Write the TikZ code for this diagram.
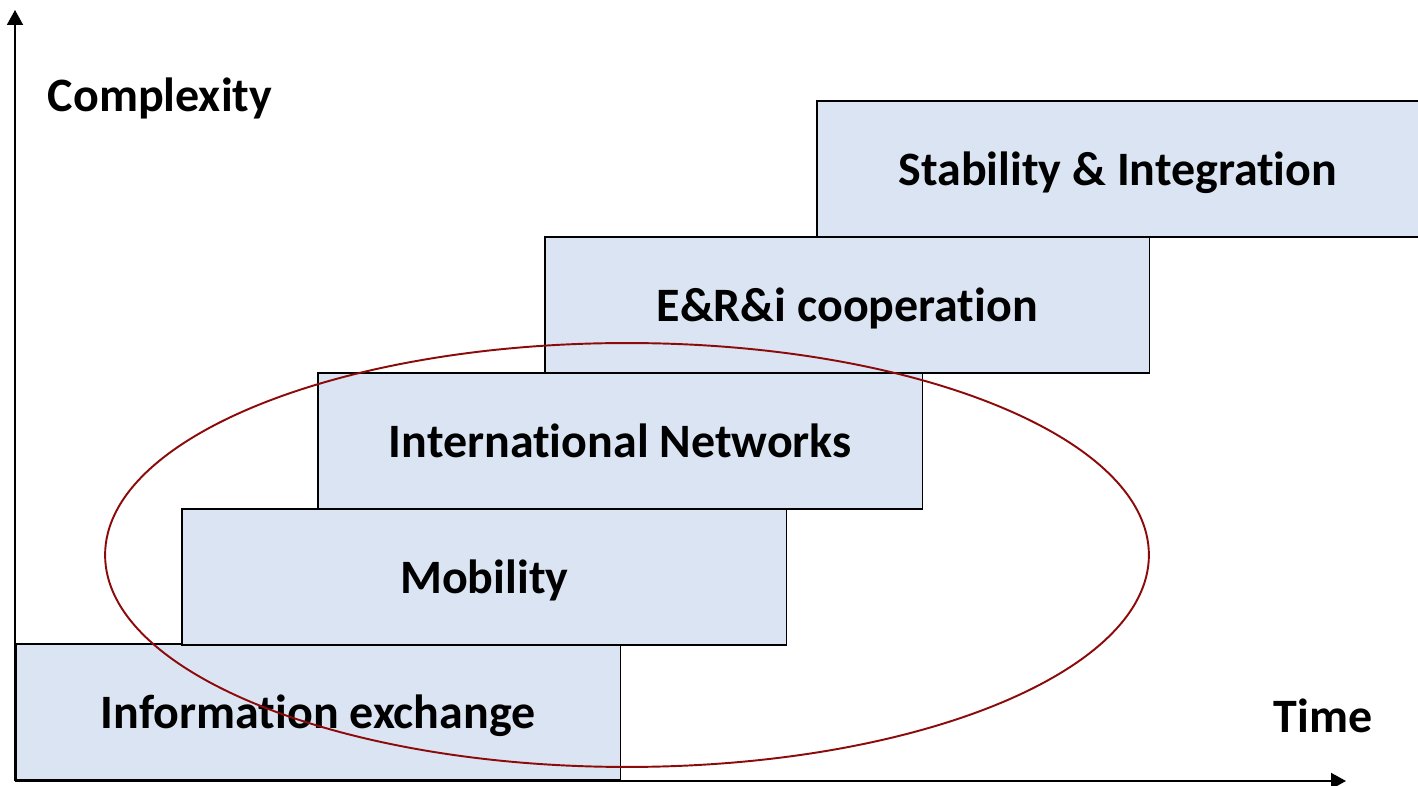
\documentclass[tikz,border=0pt]{standalone}
\usepackage{fontspec}
\setmainfont{Carlito}[Ligatures={CommonOff,ContextualOff}, RawFeature=-calt]
\definecolor{stageblue}{RGB}{219, 228, 242}
\definecolor{ringred}{RGB}{140, 10, 10}
\usetikzlibrary{arrows.meta,positioning,shapes}

\begin{document}
\begin{tikzpicture}[x=0.02cm, y=-0.02cm, thick,
    stage/.style={rectangle, draw=black, line width=0.9pt, fill=stageblue, minimum width=12.1cm, minimum height=2.72cm, anchor=south west, inner sep=0pt, text height=24pt, text depth=6pt, font=\fontsize{27.3}{32}\selectfont\bfseries},
    axlabel/.style={font=\fontsize{27.3}{32}\selectfont\bfseries}]
    \useasboundingbox (0,0) rectangle (1418,786);

    % axes
    \coordinate (origin) at (15,781);
    \coordinate (ytop) at (15,10);
    \coordinate (xend) at (1346,781);
    \draw[-{Triangle[length=0.3cm, width=0.32cm]}, line width=1.1pt] (origin) -- (ytop);
    \draw[-{Triangle[length=0.3cm, width=0.32cm]}, line width=1.1pt] (origin) -- (xend);
    \node[axlabel] (complexity) at (160,98) {Complexity};
    \node[axlabel] (time) at (1323,716) {Time};

    % stages
    \node[stage] (info) at (15,781) {Information exchange};
    \node[stage] (mobility) at (181,646) {Mobility};
    \node[stage] (networks) at (317,510) {International Networks};
    \node[stage] (coop) at (544,374) {E\&R\&i cooperation};
    \node[stage, minimum width=12.04cm] (stability) at (816,238) {Stability \& Integration};

    % highlight
    \draw[ringred, line width=1.1pt] (627,555) ellipse [x radius=10.44cm, y radius=4.24cm];
\end{tikzpicture}
\end{document}
